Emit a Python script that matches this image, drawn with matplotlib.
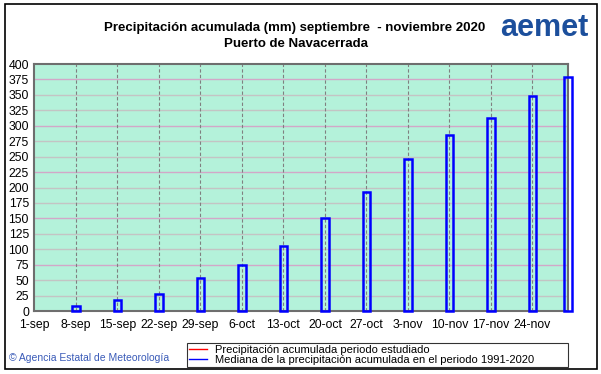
import matplotlib.pyplot as plt
import numpy as np

plt.rcParams['font.family'] = ['Liberation Sans', 'DejaVu Sans']

# ------------------------------------------------------------------------------------------------------------------
# data (days counted from 1-sep)
tick_days = [0, 7, 14, 21, 28, 35, 42, 49, 56, 63, 70, 77, 84]
tick_labels = ['1-sep', '8-sep', '15-sep', '22-sep', '29-sep', '6-oct', '13-oct',
               '20-oct', '27-oct', '3-nov', '10-nov', '17-nov', '24-nov']
median_days = [7, 14, 21, 28, 35, 42, 49, 56, 63, 70, 77, 84, 90]
median_acc = [8, 18, 28, 53, 75, 105, 151, 192, 247, 285, 312, 348, 379]

# ------------------------------------------------------------------------------------------------------------------
fig = plt.figure(figsize=(6.01, 3.74), dpi=100)
ax = fig.add_axes([0.0574, 0.1684, 0.8877, 0.6604])
ax.set_facecolor('#b4f2da')

ax.set_xlim(0, 90)
ax.set_ylim(0, 400)
ax.set_yticks(np.arange(0, 401, 25))
ax.set_xticks(tick_days)
ax.set_xticklabels(tick_labels)

for y in range(25, 400, 25):
    c = '#d2a8c8' if (y // 25) % 3 == 0 else '#c4c4c4'
    ax.axhline(y, color=c, lw=1.0, zorder=1)
for d in tick_days[1:]:
    ax.axvline(d, color='#808080', lw=0.8, ls=(0, (3, 2)), zorder=1)

ax.bar(median_days, median_acc, width=1.3, facecolor='none', edgecolor='#0000ff',
       lw=1.8, zorder=3, clip_on=False)

ax.tick_params(axis='both', length=0, labelsize=8.8, pad=6)
ax.tick_params(axis='y', pad=4)
for s in ax.spines.values():
    s.set_color('#6e6e6e')
    s.set_linewidth(1.5)

# legend with unused red series
ax.plot([], [], color='red', lw=1, label='Precipitación acumulada periodo estudiado')
ax.plot([], [], color='blue', lw=1, label='Mediana de la precipitación acumulada en el periodo 1991-2020')
leg = fig.legend(loc='lower left', bbox_to_anchor=(0.311, 0.0187, 0.634, 0.08), mode='expand',
                 fontsize=8, frameon=True, fancybox=False, edgecolor='black', handlelength=1.6,
                 borderpad=0.2, labelspacing=0.0, handletextpad=0.7, borderaxespad=0)
leg.get_frame().set_linewidth(0.8)

fig.text(0.49, 0.925, 'Precipitación acumulada (mm) septiembre  - noviembre 2020',
         ha='center', va='center', fontsize=9.5, fontweight='bold')
fig.text(0.493, 0.882, 'Puerto de Navacerrada', ha='center', va='center',
         fontsize=9.5, fontweight='bold')
fig.text(0.905, 0.925, 'aemet', ha='center', va='center', fontsize=22,
         fontweight='bold', color='#1c4f9c')
fig.text(0.015, 0.042, '© Agencia Estatal de Meteorología', ha='left', va='center',
         fontsize=7.5, color='#3a5bb8')

# figure frame
fig.patches.append(plt.Rectangle((0.008, 0.013), 0.986, 0.976, transform=fig.transFigure,
                                 fill=False, edgecolor='black', lw=1.2))

fig.savefig('out.png', dpi=100)
